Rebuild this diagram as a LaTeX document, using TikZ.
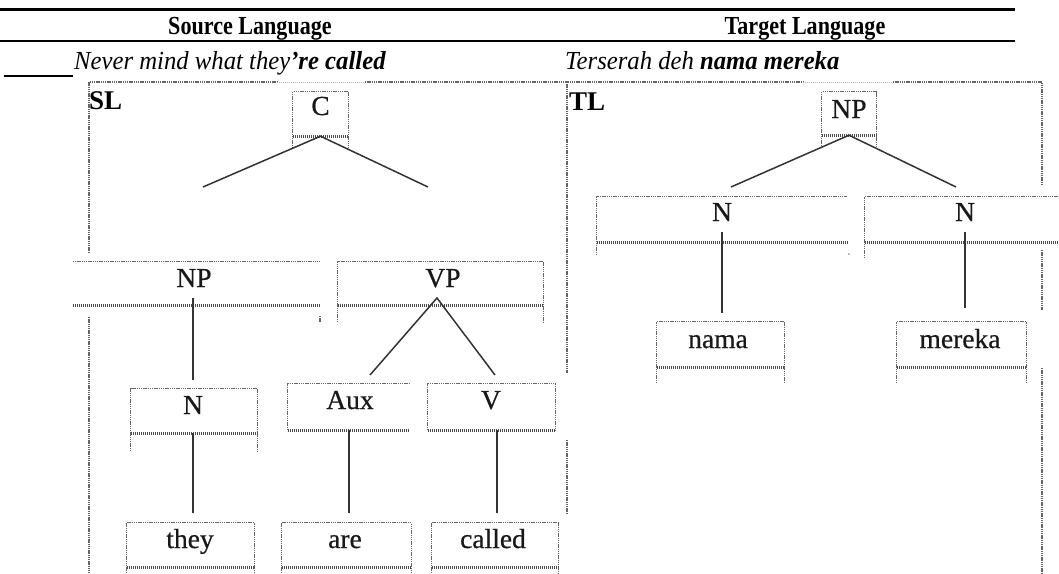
\documentclass[tikz,border=0pt]{standalone}
\usepackage{fontspec}
\setmainfont{Liberation Serif}
\newfontface\treefont[FakeBold=0.6]{Liberation Serif}
\newcommand\drawboxedges[3]{% name, left leg, right leg
  \draw[dotl] ([yshift=-#2]#1.south west) -- (#1.north west) -- (#1.north east) -- ([yshift=-#3]#1.south east);
  \draw[wavl] (#1.south west) -- (#1.south east);}
\tikzset{
  dotl/.style={draw=black!60, line width=1.2pt, dash pattern=on 1.4pt off 0.8pt},
  lite/.style={draw=black!30, line width=1pt, dash pattern=on 1pt off 1pt},
  fram/.style={draw=black!60, line width=1.8pt, dash pattern=on 1.4pt off 0.8pt},
  wavl/.style={draw=black!70, line width=2.6pt, dash pattern=on 1.2pt off 0.8pt},
  branch/.style={draw=black!80, line width=1.5pt},
  rule/.style={draw=black},
  boxn/.style={draw=none, inner sep=0pt, rectangle},
  lab/.style={font=\treefont\fontsize{27.5}{30}\selectfont, inner sep=0pt, anchor=base, text=black!90},
  blab/.style={font=\fontsize{27}{30}\selectfont\bfseries, inner sep=0pt, anchor=base west},
  hd/.style={font=\fontsize{26}{28}\selectfont\bfseries, inner sep=0pt, anchor=base, xscale=0.85},
  sent/.style={font=\fontsize{26}{28}\selectfont\itshape, inner sep=0pt, anchor=base west, xscale=0.95}
}
\begin{document}
\begin{tikzpicture}[x=1pt,y=-1pt]
\useasboundingbox (0,0) rectangle (1059,573);
% header rules
\coordinate (r1a) at (0,9); \coordinate (r1b) at (1015,9);
\coordinate (r2a) at (0,41); \coordinate (r2b) at (1015,41);
\coordinate (r3a) at (4,76); \coordinate (r3b) at (73,76);
\draw[rule, line width=3pt] (r1a) -- (r1b);
\draw[rule, line width=2pt] (r2a) -- (r2b);
\draw[rule, line width=1.2pt] (r3a) -- (r3b);
\node[hd] (hsl) at (250,34) {Source Language};
\node[hd] (htl) at (805,34) {Target Language};
\node[sent] (ssl) at (74,69) {Never mind what they\textbf{’re called}};
\node[sent] (stl) at (565,69) {Terserah deh \textbf{nama mereka}};
% frames
\draw[fram] (89,253) -- (89,82) -- (277,82);
\draw[lite] (277,82) -- (365,82);
\draw[fram] (365,82) -- (803,82);
\draw[lite] (803,82) -- (893,82);
\draw[fram] (893,82) -- (1042,82) -- (1042,185);
\draw[fram] (567,82) -- (567,373);
\draw[fram] (567,440) -- (567,513);
\draw[fram] (1042,250) -- (1042,310);
\draw[fram] (1042,368) -- (1042,573);
\draw[fram] (89,317) -- (89,573);
\draw[dotl] (320,316) -- (320,322);
\fill[black!50] (849,254) circle (0.8pt);
\node[blab] (sl) at (89,109) {SL};
\node[blab] (tl) at (569,110) {TL};
% SL boxes
\node[boxn, minimum width=55pt, minimum height=44pt] (cb) at (320.5,114) {};
\drawboxedges{cb}{12pt}{12pt}
\node[lab] (cl) at (320.5,115) {C};
\node[boxn, minimum width=247pt, minimum height=43pt] (snp) at (196.5,283.5) {};
\draw[dotl] (snp.north west) -- (snp.north east);
\draw[wavl] (snp.south west) -- (snp.south east);
\node[lab] (snpl) at (194,287) {NP};
\node[boxn, minimum width=205pt, minimum height=43pt] (vp) at (440.5,283.5) {};
\drawboxedges{vp}{17pt}{17pt}
\node[lab] (vpl) at (443,287) {VP};
\node[boxn, minimum width=126pt, minimum height=44pt] (sn) at (194,411) {};
\drawboxedges{sn}{18pt}{18pt}
\node[lab] (snl) at (193,414) {N};
\node[boxn, minimum width=121pt, minimum height=46pt] (aux) at (348.5,407) {};
\draw[dotl] (aux.south west) -- (aux.north west) -- (aux.north east);
\draw[wavl] (aux.south west) -- (aux.south east);
\node[lab] (auxl) at (350,409) {Aux};
\node[boxn, minimum width=127pt, minimum height=46pt] (vb) at (491.5,407) {};
\drawboxedges{vb}{0pt}{0pt}
\node[lab] (vbl) at (491,409) {V};
\node[boxn, minimum width=127pt, minimum height=44pt] (they) at (190.5,545) {};
\drawboxedges{they}{8pt}{8pt}
\node[lab] (theyl) at (190,548) {they};
\node[boxn, minimum width=129pt, minimum height=44pt] (are) at (346.5,545) {};
\drawboxedges{are}{8pt}{8pt}
\node[lab] (arel) at (345,548) {are};
\node[boxn, minimum width=126pt, minimum height=44pt] (called) at (495,545) {};
\drawboxedges{called}{8pt}{8pt}
\node[lab] (calledl) at (493,548) {called};
% TL boxes
\node[boxn, minimum width=54pt, minimum height=43pt] (tnp) at (849,113.5) {};
\drawboxedges{tnp}{13pt}{13pt}
\node[lab] (tnpl) at (849,118) {NP};
\node[boxn, minimum width=250pt, minimum height=45pt] (tna) at (722,219.5) {};
\draw[dotl] ([yshift=-13pt]tna.south west) -- (tna.north west) -- (tna.north east);
\draw[wavl] (tna.south west) -- (tna.south east);
\node[lab] (tnal) at (722,221) {N};
\node[boxn, minimum width=194pt, minimum height=45pt] (tnb) at (962,219.5) {};
\draw[dotl] ([yshift=-16pt]tnb.south west) -- (tnb.north west) -- (tnb.north east);
\draw[wavl] (tnb.south west) -- (tnb.south east);
\node[lab] (tnbl) at (965,221) {N};
\node[boxn, minimum width=127pt, minimum height=45pt] (nama) at (720.5,344.5) {};
\drawboxedges{nama}{16pt}{16pt}
\node[lab] (namal) at (718,348) {nama};
\node[boxn, minimum width=129pt, minimum height=45pt] (mereka) at (961.5,344.5) {};
\drawboxedges{mereka}{16pt}{16pt}
\node[lab] (merekal) at (960,348) {mereka};
% branch end points
\coordinate (c1) at (203,187); \coordinate (c2) at (428,187);
\coordinate (t1) at (731,187); \coordinate (t2) at (956,187);
\coordinate (snpA) at (193,298); \coordinate (snT) at (193,380);
\coordinate (vpA) at (437,298); \coordinate (auxT) at (370,375); \coordinate (vT) at (495,375);
\coordinate (snB) at (193,433); \coordinate (theyT) at (193,513);
\coordinate (auxB) at (349,430); \coordinate (areT) at (349,513);
\coordinate (vB) at (497,430); \coordinate (calledT) at (497,513);
\coordinate (tnaA) at (722,232); \coordinate (namaT) at (722,313);
\coordinate (tnbA) at (965,232); \coordinate (merekaT) at (965,308);
% branches
\draw[branch] (c1) -- (cb.south) -- (c2);
\draw[branch] (t1) -- (tnp.south) -- (t2);
\draw[branch] (snpA) -- (snT);
\draw[branch] (auxT) -- (vpA) -- (vT);
\draw[branch] (snB) -- (theyT);
\draw[branch] (auxB) -- (areT);
\draw[branch] (vB) -- (calledT);
\draw[branch] (tnaA) -- (namaT);
\draw[branch] (tnbA) -- (merekaT);
\end{tikzpicture}
\end{document}
